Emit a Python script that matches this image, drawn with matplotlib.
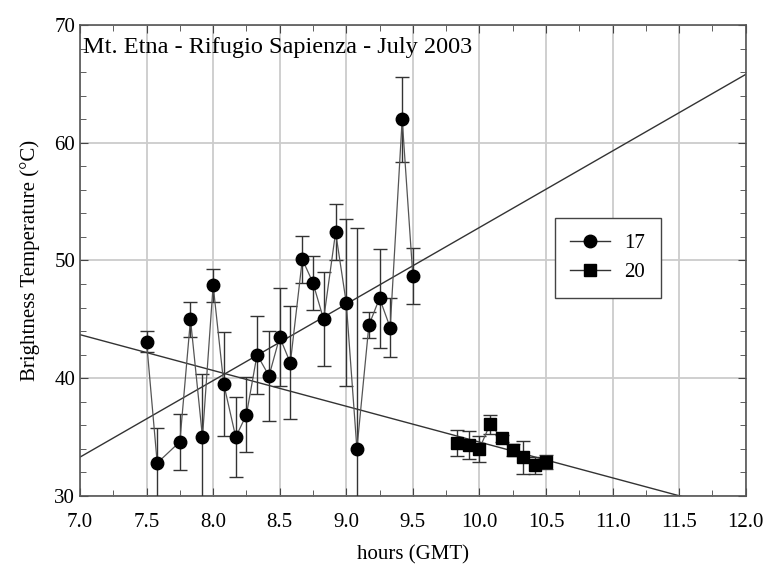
import matplotlib
matplotlib.use('Agg')
import matplotlib.pyplot as plt
from matplotlib.ticker import MultipleLocator, FormatStrFormatter
from matplotlib.lines import Line2D

plt.rcParams['font.family'] = ['Liberation Serif', 'DejaVu Serif']

# series 17 (circles)
t17 = [7.50, 7.58, 7.75, 7.83, 7.92, 8.00, 8.08, 8.17, 8.25, 8.33, 8.42, 8.50,
       8.58, 8.67, 8.75, 8.83, 8.92, 9.00, 9.08, 9.17, 9.25, 9.33, 9.42, 9.50]
T17 = [43.1, 32.8, 34.6, 45.0, 35.0, 47.9, 39.5, 35.0, 36.9, 42.0, 40.2, 43.5,
       41.3, 50.1, 48.1, 45.0, 52.4, 46.4, 34.0, 44.5, 46.8, 44.3, 62.0, 48.7]
e17 = [0.9, 3.0, 2.4, 1.5, 5.4, 1.4, 4.4, 3.4, 3.2, 3.3, 3.8, 4.2,
       4.8, 2.0, 2.3, 4.0, 2.4, 7.1, 18.8, 1.1, 4.2, 2.5, 3.6, 2.4]

# series 20 (squares)
t20 = [9.83, 9.92, 10.00, 10.08, 10.17, 10.25, 10.33, 10.42, 10.50]
T20 = [34.5, 34.3, 34.0, 36.1, 34.9, 33.9, 33.3, 32.6, 32.9]
e20 = [1.1, 1.2, 1.1, 0.8, 0.3, 0.5, 1.4, 0.7, 0.6]

# trend lines (end points)
rise_x = [7.0, 12.0]
rise_y = [33.3, 65.8]
fall_x = [7.0, 12.0]
fall_y = [43.7, 28.5]

fig = plt.figure(figsize=(7.64, 5.68), dpi=100)
ax = fig.add_axes([0.1047, 0.1268, 0.8713, 0.8292])

ax.plot(rise_x, rise_y, color='#333333', lw=1.0, zorder=2)
ax.plot(fall_x, fall_y, color='#333333', lw=1.0, zorder=2)

style = dict(color='#555555', mfc='black', mec='black', lw=0.9, ecolor='#333333',
             elinewidth=1.0, capsize=5, capthick=1.0, zorder=3)
ax.errorbar(t17, T17, yerr=e17, fmt='-o', ms=9, **style)
ax.errorbar(t20, T20, yerr=e20, fmt='-s', ms=8, **style)

ax.set_xlim(7.0, 12.0)
ax.set_ylim(30, 70)
ax.xaxis.set_major_locator(MultipleLocator(0.5))
ax.xaxis.set_minor_locator(MultipleLocator(0.25))
ax.yaxis.set_major_locator(MultipleLocator(10))
ax.yaxis.set_minor_locator(MultipleLocator(2))
ax.xaxis.set_major_formatter(FormatStrFormatter('%.1f'))
ax.tick_params(which='both', direction='in', top=True, right=True, labelsize=15,
               color='#444444')
ax.tick_params(which='major', length=6)
ax.tick_params(which='minor', length=4)
ax.tick_params(axis='x', pad=12)
ax.grid(True, which='major', color='#cccccc', lw=1.3)
ax.set_axisbelow(True)
for s in ax.spines.values():
    s.set_color('#555555')
    s.set_linewidth(1.2)

ax.set_xlabel('hours (GMT)', fontsize=15, labelpad=10)
ax.set_ylabel('Brightness Temperature (°C)', fontsize=15, labelpad=10)
ax.text(0.004, 0.975, 'Mt. Etna - Rifugio Sapienza - July 2003', transform=ax.transAxes,
        fontsize=17.5, va='top', ha='left')

handles = [Line2D([], [], color='#333333', lw=1.0, marker='o', ms=9, mfc='black', mec='black'),
           Line2D([], [], color='#333333', lw=1.0, marker='s', ms=8, mfc='black', mec='black')]
leg = ax.legend(handles, ['17', '20'], loc='upper left', bbox_to_anchor=(0.713, 0.59),
                fontsize=15, frameon=True, fancybox=False, borderpad=0.75,
                labelspacing=0.45, handlelength=1.9, handletextpad=0.7,
                borderaxespad=0)
leg.get_frame().set_edgecolor('#444444')
leg.get_frame().set_linewidth(1.0)
leg.get_frame().set_alpha(1)

fig.savefig('out.png', dpi=100)
